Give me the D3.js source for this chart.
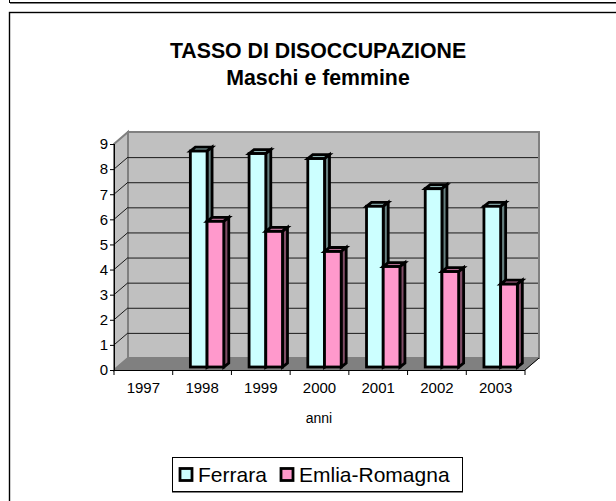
<!DOCTYPE html>
<html>
<head>
<meta charset="utf-8">
<script src="https://cdn.jsdelivr.net/npm/d3@7"></script>
<style>
  html, body { margin: 0; padding: 0; background: #fff; }
  svg { display: block; font-family: "Liberation Sans", Arial, sans-serif; }
</style>
</head>
<body>
<svg id="chart" width="616" height="501"></svg>
<script>
var years = ["1997", "1998", "1999", "2000", "2001", "2002", "2003"];
var ferrara = [null, 8.6, 8.5, 8.3, 6.4, 7.1, 6.4];
var emilia = [null, 5.8, 5.4, 4.6, 4.0, 3.8, 3.3];
var yTicks = [0, 1, 2, 3, 4, 5, 6, 7, 8, 9];
var titleLines = ["TASSO DI DISOCCUPAZIONE", "Maschi e femmine"];
var seriesNames = ["Ferrara", "Emlia-Romagna"];

var colors = {
  Ferrara: {front: "#ccffff", top: "#8fb3b3", side: "#668080"},
  "Emlia-Romagna": {front: "#ff99cc", top: "#b36b8f", side: "#804d66"}
};

var svg = d3.select("#chart");

var x = d3.scaleBand().domain(years).range([114, 525]);
var y = d3.scaleLinear().domain([0, 9]).range([370, 144]);

var wallDx = 14, wallDy = -12; // depth of the 3d box
var barDx = 5, barDy = -3;     // where bars stand inside the box
var barDepthX = 5, barDepthY = -4;
var barW = 16.7;

// outer frames
svg.append("rect").attr("x", 9.5).attr("y", -10).attr("width", 620).attr("height", 12.5)
   .attr("fill", "none").attr("stroke", "#000").attr("stroke-width", 1);
svg.append("line").attr("x1", 10).attr("x2", 616).attr("y1", 3.5).attr("y2", 3.5)
   .attr("stroke", "#808080").attr("stroke-width", 1);
svg.append("rect").attr("x", 9.5).attr("y", 12.5).attr("width", 620).attr("height", 500)
   .attr("fill", "#fff").attr("stroke", "#000").attr("stroke-width", 1.4);

// title
svg.selectAll(".title").data(titleLines).enter().append("text")
   .attr("class", "title")
   .attr("x", 318)
   .attr("y", function(d, i) { return 58 + i * 27; })
   .attr("text-anchor", "middle")
   .attr("font-size", 21.3)
   .attr("font-weight", "bold")
   .text(function(d) { return d; });

var x0 = x.range()[0], x1 = x.range()[1];
var y0 = y(0), y9 = y(9);

function pts(a) { return a.map(function(p) { return p.join(","); }).join(" "); }

// side wall, back wall, floor
svg.append("polygon")
   .attr("points", pts([[x0, y0], [x0 + wallDx, y0 + wallDy], [x0 + wallDx, y9 + wallDy], [x0, y9]]))
   .attr("fill", "#c0c0c0").attr("stroke", "#808080").attr("stroke-width", 2);
svg.append("rect")
   .attr("x", x0 + wallDx).attr("y", y9 + wallDy)
   .attr("width", x1 - x0).attr("height", y0 - y9)
   .attr("fill", "#c0c0c0").attr("stroke", "#808080").attr("stroke-width", 2);

// gridlines on walls
var grid = svg.append("g").selectAll("g").data(yTicks.slice(1, -1)).enter().append("g");
grid.append("line")
   .attr("x1", x0 + wallDx).attr("x2", x1 + wallDx - 1)
   .attr("y1", function(d) { return y(d) + wallDy + 0.5; })
   .attr("y2", function(d) { return y(d) + wallDy + 0.5; })
   .attr("stroke", "#1a1a1a");
grid.append("line")
   .attr("x1", x0).attr("x2", x0 + wallDx)
   .attr("y1", function(d) { return y(d); })
   .attr("y2", function(d) { return y(d) + wallDy; })
   .attr("stroke", "#1a1a1a");

svg.append("polygon")
   .attr("points", pts([[x0, y0], [x0 + wallDx, y0 + wallDy], [x1 + wallDx, y0 + wallDy], [x1, y0]]))
   .attr("fill", "#808080").attr("stroke", "#808080");

// bars
function drawBar(g, left, value, c) {
  var top = y(value) + barDy, base = y(0) + barDy;
  g.append("polygon")
   .attr("points", pts([[left, top], [left + barDepthX, top + barDepthY], [left + barW + barDepthX, top + barDepthY], [left + barW, top]]))
   .attr("fill", c.top);
  g.append("polygon")
   .attr("points", pts([[left + barW, top], [left + barW + barDepthX, top + barDepthY], [left + barW + barDepthX, base + barDepthY], [left + barW, base]]))
   .attr("fill", c.side);
  g.append("rect")
   .attr("x", left).attr("y", top).attr("width", barW).attr("height", base - top)
   .attr("fill", c.front);
  g.selectAll("*").attr("stroke", "#000").attr("stroke-width", 2.8).attr("stroke-linejoin", "miter");
}

var bars = svg.append("g");
years.forEach(function(year, i) {
  var left = x(year) + x.bandwidth() / 2 + barDx - barW;
  if (ferrara[i] !== null) drawBar(bars.append("g"), left, ferrara[i], colors.Ferrara);
  if (emilia[i] !== null) drawBar(bars.append("g"), left + barW, emilia[i], colors["Emlia-Romagna"]);
});

// right end of floor tick
svg.append("line")
   .attr("x1", x1).attr("y1", y0).attr("x2", x1 + wallDx).attr("y2", y0 + wallDy)
   .attr("stroke", "#000");

// axes
var xAxis = svg.append("g")
   .attr("transform", "translate(0," + y0 + ")")
   .call(d3.axisBottom(x).tickSize(0).tickPadding(12));
xAxis.select(".domain").attr("stroke", "#000").attr("stroke-width", 1).attr("d", "M" + x0 + ",0.5H" + x1);
xAxis.selectAll("text").attr("font-size", 15).attr("font-family", null).attr("fill", "#000");
xAxis.selectAll(".edge").data(d3.range(years.length + 1)).enter().append("line")
   .attr("class", "edge")
   .attr("x1", function(d) { return x0 + d * x.step(); })
   .attr("x2", function(d) { return x0 + d * x.step(); })
   .attr("y1", 0).attr("y2", 5)
   .attr("stroke", "#000");

var yAxis = svg.append("g")
   .attr("transform", "translate(" + x0 + ",0)")
   .call(d3.axisLeft(y).tickValues(yTicks).tickFormat(d3.format("d")).tickSize(4).tickPadding(2));
yAxis.select(".domain").attr("stroke", "#000").attr("d", "M0.5," + y9 + "V" + y0);
yAxis.selectAll("text").attr("font-size", 15).attr("font-family", null).attr("fill", "#000");
yAxis.selectAll("line").attr("stroke", "#000");

// axis title
svg.append("text")
   .attr("x", 319).attr("y", 423)
   .attr("text-anchor", "middle")
   .attr("font-size", 14)
   .text("anni");

// legend
svg.append("rect")
   .attr("x", 172.5).attr("y", 457.5).attr("width", 290).attr("height", 34)
   .attr("fill", "#fff").attr("stroke", "#000");
svg.append("line")
   .attr("x1", 172).attr("x2", 463).attr("y1", 492.5).attr("y2", 492.5).attr("stroke", "#808080");
var legendX = [180, 281];
var legend = svg.selectAll(".legend").data(seriesNames).enter().append("g").attr("class", "legend");
legend.append("rect")
   .attr("x", function(d, i) { return legendX[i]; })
   .attr("y", 468.5).attr("width", 12).attr("height", 12)
   .attr("fill", function(d) { return colors[d].front; })
   .attr("stroke", "#000").attr("stroke-width", 2.8);
legend.append("text")
   .attr("x", function(d, i) { return legendX[i] + 18; })
   .attr("y", 482)
   .attr("font-size", 21)
   .text(function(d) { return d; });
</script>
</body>
</html>
